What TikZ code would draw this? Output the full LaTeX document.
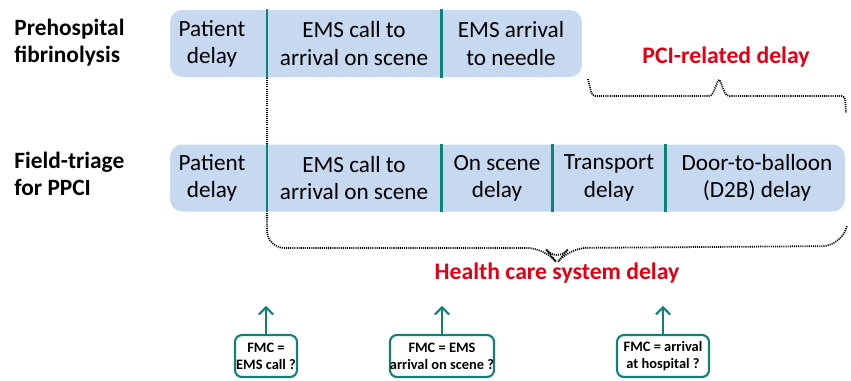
\documentclass[tikz,border=0pt]{standalone}
\usepackage{fontspec}
\setmainfont{Carlito}
\usetikzlibrary{arrows.meta,positioning,calc}
\definecolor{barblue}{RGB}{198,217,240}
\definecolor{fmcteal}{RGB}{16,128,120}
\definecolor{delayred}{RGB}{228,0,20}
\begin{document}
\begin{tikzpicture}[x=0.02cm, y=-0.02cm, > = {Straight Barb[length=4pt,width=8pt]}]
            % Styles
            \tikzstyle{bar}=[rounded corners=7pt, fill=barblue, inner sep=0pt]
            \tikzstyle{cell}=[align=center, inner sep=0pt, font=\fontsize{13.2}{15.5}\selectfont]
            \tikzstyle{row}=[align=left, anchor=west, inner sep=0pt, font=\fontsize{13.3}{15.5}\selectfont\bfseries]
            \tikzstyle{divider}=[fmcteal, line width=1.7pt]
            \tikzstyle{brace}=[line width=1pt, dash pattern=on 0.6pt off 0.6pt, rounded corners=4pt]
            \tikzstyle{total}=[delayred, inner sep=0pt, font=\fontsize{13.5}{16}\selectfont\bfseries]
            \tikzstyle{fmc}=[draw=fmcteal, line width=1.2pt, rounded corners=4pt, fill=white, align=center, inner sep=0pt, minimum height=0.84cm, font=\fontsize{8.2}{9.6}\selectfont\bfseries]

            \useasboundingbox (0,0) rectangle (851,380);

            % Rows
            \node[row] (rfib) at (14,43) {Prehospital\\fibrinolysis};
            \node[row] (rtri) at (14,174) {Field-triage\\for PPCI};

            % Bars
            \node[bar, minimum width=8.24cm, minimum height=1.34cm] (fib) at (376,43.5) {};
            \node[bar, minimum width=13.5cm, minimum height=1.34cm] (tri) at (507.5,178) {};

            % Cells
            \node[cell] (fib1) at (212,43.5) {Patient\\delay};
            \node[cell] (fib2) at (354,43.5) {EMS call to\\arrival on scene};
            \node[cell] (fib3) at (511,43.5) {EMS arrival\\to needle};
            \node[cell] (tri1) at (212,178) {Patient\\delay};
            \node[cell] (tri2) at (354,178) {EMS call to\\arrival on scene};
            \node[cell] (tri3) at (497,178) {On scene\\delay};
            \node[cell] (tri4) at (609,178) {Transport\\delay};
            \node[cell] (tri5) at (757,178) {Door-to-balloon\\(D2B) delay};

            % Dividers
            \foreach \x in {267,441}
                \draw[divider] (\x,9) -- (\x,78);
            \foreach \x in {267,441,552,665}
                \draw[divider] (\x,144) -- (\x,212);
            \draw[brace, rounded corners=0pt] (267,78) -- (267,144);

            % Braces
            \node[total] (pci) at (726,57) {PCI-related delay};
            \coordinate (pcitip) at (719,78);
            \draw[brace, rounded corners=2pt] (588,79) -- (592,96) -- (712,96) -- (pcitip) -- (726,96) -- (845,96) -- (846,113);
            \node[total] (hcs) at (557,273) {Health care system delay};
            \coordinate (hcstip) at (557,263);
            \draw[brace, rounded corners=10pt] (267,213) -- (267,248) -- (545,248) -- (hcstip) -- (569,248) -- (840,246) -- (847,226);

            % FMC
            \node[fmc, minimum width=1.24cm] (fmc1) at (266,356) {FMC =\\EMS call ?};
            \node[fmc, minimum width=2.04cm] (fmc2) at (442,356) {FMC = EMS\\arrival on scene ?};
            \node[fmc, minimum width=1.84cm] (fmc3) at (663,356) {FMC = arrival\\at hospital ?};
            \foreach \b in {fmc1,fmc2,fmc3}
                \draw[->, fmcteal, line width=1.2pt] (\b.north) -- ++(0,-28);
        \end{tikzpicture}
\end{document}
